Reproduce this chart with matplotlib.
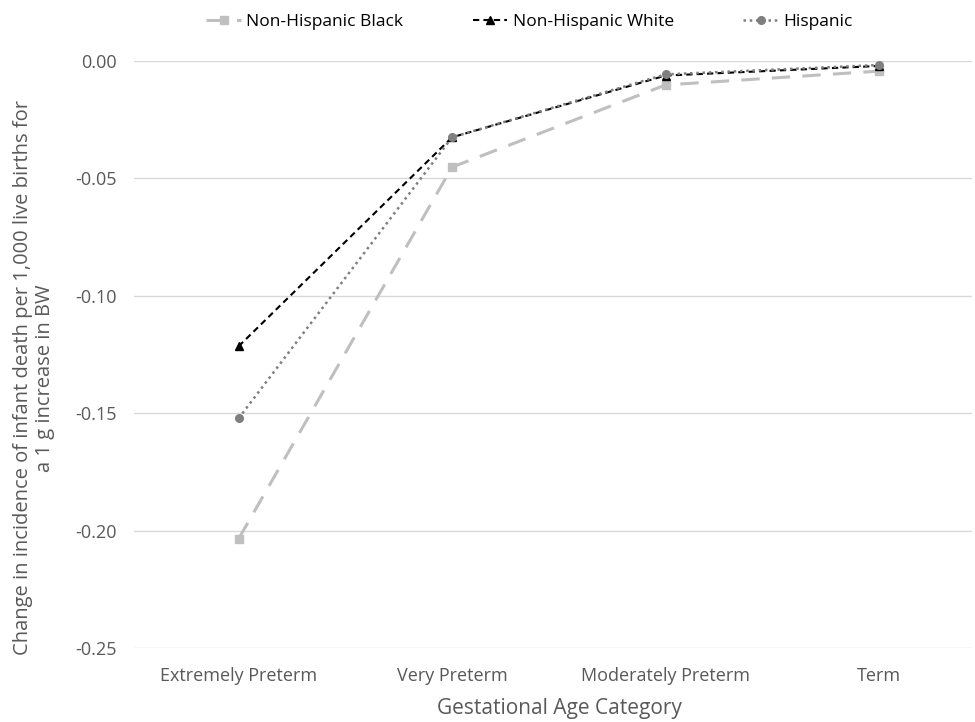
import matplotlib
matplotlib.use("Agg")
import matplotlib.pyplot as plt

plt.rcParams['font.family'] = ['Open Sans', 'DejaVu Sans']

categories = ["Extremely Preterm", "Very Preterm", "Moderately Preterm", "Term"]
black = [-0.2035, -0.0452, -0.0102, -0.0043]
white = [-0.1215, -0.0325, -0.0062, -0.0021]
hispanic = [-0.1522, -0.0325, -0.0057, -0.0017]

text_color = "#595959"

fig = plt.figure(figsize=(9.75, 7.22), dpi=100)
ax = fig.add_axes([0.137, 0.1025, 0.86, 0.813])

x = list(range(len(categories)))
ax.plot(x, black, color="#bfbfbf", linestyle=(0, (6, 4)), linewidth=2.2,
        marker="s", markersize=6, label="Non-Hispanic Black", zorder=3)
ax.plot(x, white, color="black", linestyle=(0, (3, 2)), linewidth=1.5,
        marker="^", markersize=6, label="Non-Hispanic White", zorder=4)
ax.plot(x, hispanic, color="#7f7f7f", linestyle=(0, (1, 1.5)), linewidth=1.8,
        marker="o", markersize=5.5, label="Hispanic", zorder=5)

ax.set_ylim(-0.25, 0.0)
ax.set_yticks([0.0, -0.05, -0.10, -0.15, -0.20, -0.25])
ax.set_yticklabels(["0.00", "-0.05", "-0.10", "-0.15", "-0.20", "-0.25"])
ax.set_xlim(-0.492, 3.436)
ax.set_xticks(x)
ax.set_xticklabels(categories)

ax.grid(axis="y", color="#d9d9d9", linewidth=1)
ax.set_axisbelow(True)
for s in ax.spines.values():
    s.set_visible(False)
ax.tick_params(length=0, colors=text_color, labelsize=13)
ax.tick_params(axis="x", pad=14)
ax.tick_params(axis="y", pad=12)

ax.set_xlabel("Gestational Age Category", color=text_color, fontsize=15)
ax.xaxis.set_label_coords(0.508, -0.086)
ax.set_ylabel("Change in incidence of infant death per 1,000 live births for\na 1 g increase in BW",
              color=text_color, fontsize=14.5, linespacing=1.1)
ax.yaxis.set_label_coords(-0.094, 0.46)

leg = fig.legend(*ax.get_legend_handles_labels(), loc="upper center",
                 bbox_to_anchor=(0.543, 1.003), ncol=3, frameon=False,
                 fontsize=12.5, handlelength=2.0, handletextpad=0.3,
                 columnspacing=4.0)
for t in leg.get_texts():
    t.set_color("black")

fig.savefig("out.png", dpi=100)
